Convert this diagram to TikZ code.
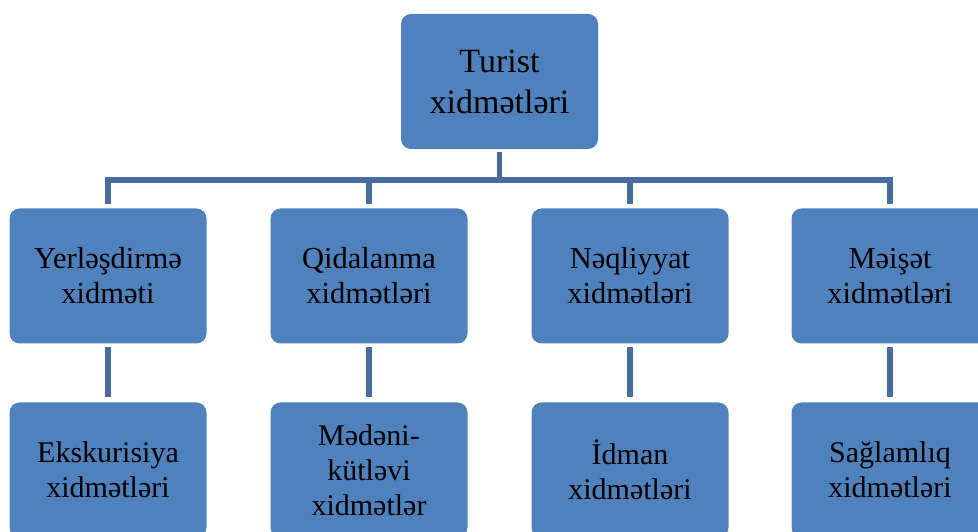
\documentclass[tikz,border=0pt]{standalone}
\usepackage{fontspec}
\setmainfont{Liberation Serif}
\definecolor{boxblue}{RGB}{79,129,189}
\definecolor{linkblue}{RGB}{72,108,158}
\tikzset{
  svcbox/.style={fill=boxblue, draw=none, rounded corners=10pt,
    minimum width=197pt, minimum height=135pt, inner sep=0pt,
    align=center, text=black},
  toptext/.style={font=\fontsize{34}{41}\selectfont},
  midtext/.style={font=\fontsize{30.5}{35}\selectfont},
  lowtext/.style={font=\fontsize{30}{35}\selectfont},
  conn/.style={draw=linkblue, line width=5.5pt, line join=miter},
}
\begin{document}
\begin{tikzpicture}[x=1pt, y=1pt]
  \clip (0,0) rectangle (978,532);
  \useasboundingbox (0,0) rectangle (978,532);

  % root
  \node[svcbox, toptext] (root) at (499.5,450.5) {Turist\\xidmətləri};

  % second level
  \node[svcbox, midtext] (yer) at (108,256) {Yerləşdirmə\\xidməti};
  \node[svcbox, midtext] (qid) at (369,256) {Qidalanma\\xidmətləri};
  \node[svcbox, midtext] (neq) at (630,256) {Nəqliyyat\\xidmətləri};
  \node[svcbox, midtext] (mei) at (890,256) {Məişət\\xidmətləri};

  % third level
  \node[svcbox, lowtext] (eks) at (108,62) {Ekskurisiya\\xidmətləri};
  \node[svcbox, lowtext] (med) at (369,62) {Mədəni-\\kütləvi\\xidmətlər};
  \node[svcbox, lowtext] (idm) at (630,62) {İdman\\xidmətləri};
  \node[svcbox, lowtext] (sag) at (890,62) {Sağlamlıq\\xidmətləri};

  % bus line joining the root to the second level
  \coordinate (bus) at (499.5,352);
  \draw[conn, shorten <=3pt] (root.south) -- (bus);
  \draw[conn] ([yshift=4pt]yer.north) |- (bus) -| ([yshift=4pt]mei.north);
  \draw[conn, shorten <=4pt] (qid.north) -- (qid.north |- bus);
  \draw[conn, shorten <=4pt] (neq.north) -- (neq.north |- bus);

  % second level to third level
  \draw[conn, shorten <=3pt, shorten >=5pt] (yer.south) -- (eks.north);
  \draw[conn, shorten <=3pt, shorten >=5pt] (qid.south) -- (med.north);
  \draw[conn, shorten <=3pt, shorten >=5pt] (neq.south) -- (idm.north);
  \draw[conn, shorten <=3pt, shorten >=5pt] (mei.south) -- (sag.north);
\end{tikzpicture}
\end{document}
